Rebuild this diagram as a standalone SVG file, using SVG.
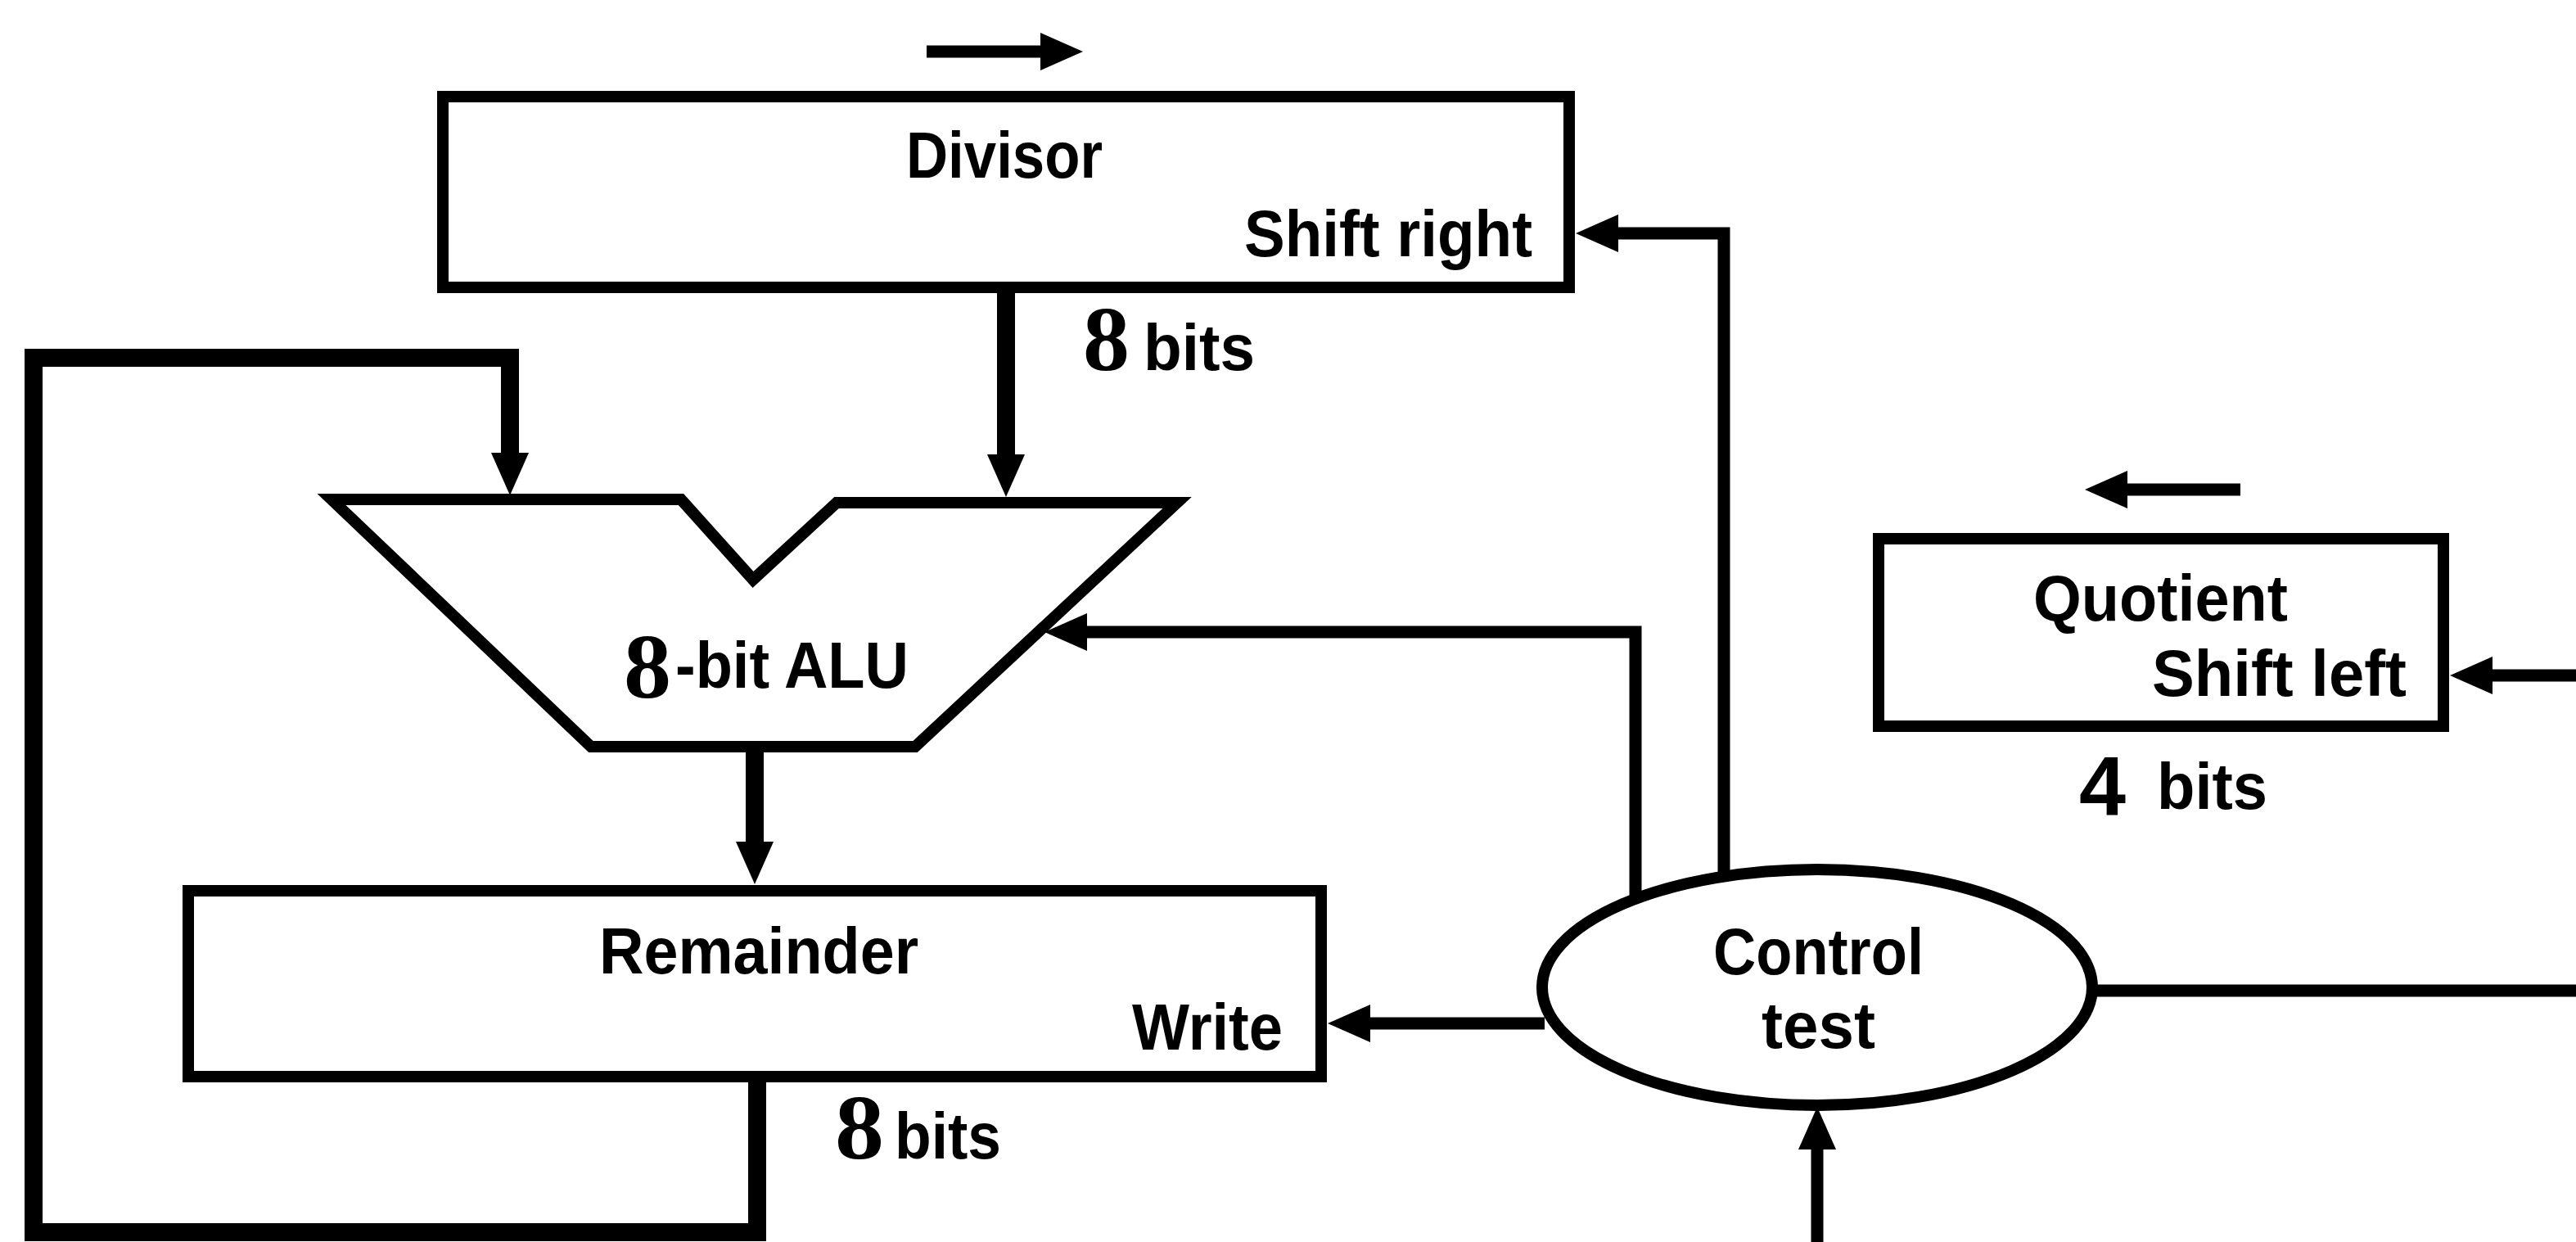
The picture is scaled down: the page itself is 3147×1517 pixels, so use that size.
<svg xmlns="http://www.w3.org/2000/svg" width="3147" height="1517" viewBox="0 0 3147 1517">
<style>
.box{fill:#fff;stroke:#000;stroke-width:14;stroke-linejoin:miter}
.wire{fill:none;stroke:#000;stroke-width:15;stroke-linejoin:miter}
.data{stroke-width:22}
.arr{marker-end:url(#ah)}
.lbl{font-family:"Liberation Sans",Arial,sans-serif;font-weight:bold;font-size:80px;fill:#000}
.dig{font-family:"Liberation Serif","Times New Roman",serif;font-weight:bold;font-size:112px;fill:#000}
.dig4{font-family:"Liberation Sans",Arial,sans-serif;font-weight:bold;font-size:102px;fill:#000}
</style>
<defs>
<marker id="ah" markerUnits="userSpaceOnUse" markerWidth="52" markerHeight="46" viewBox="0 0 52 46" refX="12" refY="23" orient="auto">
<path d="M0,0 L52,23 L0,46 z" fill="#000"/>
</marker>
</defs>
<rect width="3147" height="1517" fill="#fff"/>
<g id="connectors">
<path class="wire data arr" d="M1229,358 V567"/>
<path class="wire data arr" d="M925,1322 V1505 H41 V437 H623 V565"/>
<path class="wire data arr" d="M922,913 V1040"/>
<path class="wire arr" d="M1887,1250 H1662"/>
<path class="wire arr" d="M1998,1098 V772 H1316"/>
<path class="wire arr" d="M2106,1070 V285 H1965"/>
<path class="wire arr" d="M2220,1517 V1392"/>
<path class="wire arr" d="M3147,825 H3033"/>
<path class="wire" d="M2556,1210 H3147"/>
<path class="wire arr" d="M1132,63 H1283" stroke-width="17"/>
<path class="wire arr" d="M2737,598 H2587" stroke-width="17"/>
</g>
<g id="divisor">
<rect class="box" x="541" y="118" width="1376" height="233"/>
<text class="lbl" x="1107" y="217" textLength="240" lengthAdjust="spacingAndGlyphs">Divisor</text>
<text class="lbl" x="1520" y="313" textLength="352" lengthAdjust="spacingAndGlyphs">Shift right</text>
</g>
<g id="divisor-width">
<text class="dig" x="1323" y="452" textLength="57" lengthAdjust="spacingAndGlyphs">8</text>
<text class="lbl" x="1397" y="452" textLength="136" lengthAdjust="spacingAndGlyphs">bits</text>
</g>
<g id="alu">
<polygon class="box" points="405,610 832,610 920,708 1022,614 1438,614 1118,912 722,912"/>
<text class="dig" x="762" y="852" textLength="58" lengthAdjust="spacingAndGlyphs">8</text>
<text class="lbl" x="825" y="840" textLength="285" lengthAdjust="spacingAndGlyphs">-bit ALU</text>
</g>
<g id="remainder">
<rect class="box" x="230" y="1088" width="1384" height="227"/>
<text class="lbl" x="732" y="1189" textLength="390" lengthAdjust="spacingAndGlyphs">Remainder</text>
<text class="lbl" x="1383" y="1282" textLength="184" lengthAdjust="spacingAndGlyphs">Write</text>
</g>
<g id="remainder-width">
<text class="dig" x="1020" y="1415" textLength="60" lengthAdjust="spacingAndGlyphs">8</text>
<text class="lbl" x="1093" y="1415" textLength="130" lengthAdjust="spacingAndGlyphs">bits</text>
</g>
<g id="quotient">
<rect class="box" x="2295" y="658" width="690" height="229"/>
<text class="lbl" x="2484" y="758" textLength="311" lengthAdjust="spacingAndGlyphs">Quotient</text>
<text class="lbl" x="2629" y="850" textLength="311" lengthAdjust="spacingAndGlyphs">Shift left</text>
</g>
<g id="quotient-width">
<text class="dig4" x="2540" y="995" textLength="57" lengthAdjust="spacingAndGlyphs">4</text>
<text class="lbl" x="2635" y="988" textLength="135" lengthAdjust="spacingAndGlyphs">bits</text>
</g>
<g id="control">
<ellipse class="box" cx="2220" cy="1206" rx="336" ry="144" stroke-width="13"/>
<text class="lbl" x="2093" y="1190" textLength="257" lengthAdjust="spacingAndGlyphs">Control</text>
<text class="lbl" x="2152" y="1280" textLength="139" lengthAdjust="spacingAndGlyphs">test</text>
</g>
</svg>
